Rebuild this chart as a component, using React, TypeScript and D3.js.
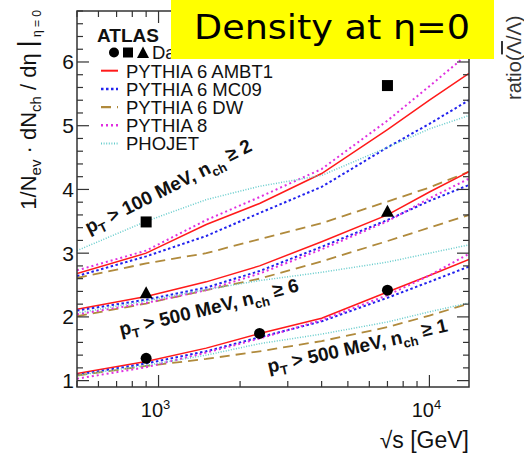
import React from "react";
import * as d3 from "d3";

// ---- data ----
const sqrtS = [500, 900, 1500, 2360, 4000, 7000, 10000, 14000];

// pT > 100 MeV, nch >= 2
const ambt1_100_2 = [2.68, 3.0, 3.45, 3.78, 4.25, 4.94, 5.4, 5.82];
const mc09_100_2 = [2.64, 2.95, 3.27, 3.63, 4.04, 4.66, 5.03, 5.4];
const dw_100_2 = [2.61, 2.84, 3.0, 3.22, 3.47, 3.81, 4.03, 4.28];
const py8_100_2 = [2.73, 3.04, 3.52, 3.88, 4.32, 5.08, 5.62, 6.14];
const phojet_100_2 = [3.04, 3.5, 3.84, 4.05, 4.22, 4.66, 4.95, 5.16];

// pT > 500 MeV, nch >= 6
const ambt1_500_6 = [2.12, 2.32, 2.55, 2.8, 3.18, 3.6, 3.96, 4.28];
const mc09_500_6 = [2.1, 2.27, 2.46, 2.72, 3.1, 3.52, 3.82, 4.07];
const dw_500_6 = [2.01, 2.21, 2.42, 2.6, 2.87, 3.19, 3.4, 3.6];
const py8_500_6 = [2.04, 2.22, 2.42, 2.68, 3.06, 3.5, 3.86, 4.17];
const phojet_500_6 = [2.06, 2.25, 2.43, 2.57, 2.7, 2.86, 3.0, 3.13];

// pT > 500 MeV, nch >= 1
const ambt1_500_1 = [1.11, 1.3, 1.51, 1.74, 1.98, 2.39, 2.65, 2.9];
const mc09_500_1 = [1.09, 1.27, 1.46, 1.68, 1.93, 2.3, 2.55, 2.79];
const dw_500_1 = [1.08, 1.23, 1.34, 1.46, 1.62, 1.84, 2.02, 2.21];
const py8_500_1 = [1.03, 1.21, 1.44, 1.66, 1.95, 2.34, 2.65, 2.99];
const phojet_500_1 = [1.08, 1.24, 1.4, 1.58, 1.73, 1.92, 2.08, 2.22];

// ATLAS data
const circleS = [900, 2360, 7000];
const circleV = [1.35, 1.74, 2.42];
const squareS = [900, 7000];
const squareV = [3.49, 5.63];
const triangleS = [900, 7000];
const triangleV = [2.37, 3.65];

const yMajor = [1, 2, 3, 4, 5, 6];
const xMajor = [1000, 10000];
const xMajorExp = ["3", "4"];

const legendNames = ["PYTHIA 6 AMBT1", "PYTHIA 6 MC09", "PYTHIA 6 DW", "PYTHIA 8", "PHOJET"];

// ---- styles ----
const styles = [
  { color: "#ff1a1a", dash: "none", width: 1.5 },
  { color: "#2222ee", dash: "2.5,2.5", width: 2 },
  { color: "#b08a3c", dash: "10,6", width: 1.8 },
  { color: "#e030e0", dash: "2,3", width: 2 },
  { color: "#66cccc", dash: "1,1.6", width: 1.5 },
];

const groups = [
  [ambt1_100_2, mc09_100_2, dw_100_2, py8_100_2, phojet_100_2],
  [ambt1_500_6, mc09_500_6, dw_500_6, py8_500_6, phojet_500_6],
  [ambt1_500_1, mc09_500_1, dw_500_1, py8_500_1, phojet_500_1],
];

const W = 524;
const H = 454;
const L = 77, R = 469, T = 11, B = 387;

const x = d3.scaleLog().domain([500, 14000]).range([L, R]);
const y = d3.scaleLinear().domain([0.9, 6.8]).range([B, T]);

const FONT = "'Liberation Sans', Arial, Helvetica, sans-serif";

export default function App() {
  const line = d3
    .line<[number, number]>()
    .x((d) => x(d[0]))
    .y((d) => y(d[1]))
    .curve(d3.curveLinear);

  const yMinor = d3.range(0.9, 6.81, 0.1).filter((v) => Math.abs(Math.round(v * 5) - v * 5) < 1e-6 && Math.abs(v - Math.round(v)) > 1e-6);
  const xMinor: number[] = [];
  for (const dec of [100, 1000, 10000]) {
    for (let k = 2; k <= 9; k++) {
      const v = k * dec;
      if (v >= 500 && v <= 14000) xMinor.push(v);
    }
  }

  const tickColor = "#333";

  return (
    <svg
      width={W}
      height={H}
      style={{ position: "absolute", left: 0, top: 0, background: "#fff" }}
      fontFamily={FONT}
    >
      <defs>
        <clipPath id="plot">
          <rect x={L} y={T} width={R - L} height={B - T} />
        </clipPath>
      </defs>
      <rect x={0} y={0} width={W} height={H} fill="#fff" />

      {/* curves */}
      <g clipPath="url(#plot)">
        {groups.map((g, gi) =>
          g.map((vals, si) => {
            const st = styles[si];
            const pts = sqrtS.map((s, i) => [s, vals[i]] as [number, number]);
            return (
              <path
                key={`${gi}-${si}`}
                d={line(pts) || ""}
                fill="none"
                stroke={st.color}
                strokeWidth={st.width}
                strokeDasharray={st.dash}
              />
            );
          })
        )}
      </g>

      {/* data markers */}
      {circleS.map((s, i) => (
        <circle key={`c${i}`} cx={x(s)} cy={y(circleV[i])} r={5.5} fill="#000" />
      ))}
      {squareS.map((s, i) => (
        <rect key={`s${i}`} x={x(s) - 5.5} y={y(squareV[i]) - 5.5} width={11} height={11} fill="#000" />
      ))}
      {triangleS.map((s, i) => {
        const cx = x(s), cy = y(triangleV[i]);
        return <path key={`t${i}`} d={`M${cx},${cy - 7} L${cx + 6.5},${cy + 5} L${cx - 6.5},${cy + 5} Z`} fill="#000" />;
      })}

      {/* frame */}
      <rect x={L} y={T} width={R - L} height={B - T} fill="none" stroke={tickColor} strokeWidth={1.5} />

      {/* y ticks */}
      {yMajor.map((v) => (
        <g key={`ym${v}`}>
          <line x1={L} x2={L + 12} y1={y(v)} y2={y(v)} stroke={tickColor} strokeWidth={1.2} />
          <line x1={R} x2={R - 12} y1={y(v)} y2={y(v)} stroke={tickColor} strokeWidth={1.2} />
          <text x={74} y={y(v) + 7.5} textAnchor="end" fontSize={21} fill="#111">
            {v}
          </text>
        </g>
      ))}
      {yMinor.map((v, i) => (
        <g key={`yn${i}`}>
          <line x1={L} x2={L + 6} y1={y(v)} y2={y(v)} stroke={tickColor} strokeWidth={1.2} />
          <line x1={R} x2={R - 6} y1={y(v)} y2={y(v)} stroke={tickColor} strokeWidth={1.2} />
        </g>
      ))}

      {/* x ticks */}
      {xMajor.map((v, i) => (
        <g key={`xm${v}`}>
          <line x1={x(v)} x2={x(v)} y1={B} y2={B - 12} stroke={tickColor} strokeWidth={1.2} />
          <line x1={x(v)} x2={x(v)} y1={T} y2={T + 12} stroke={tickColor} strokeWidth={1.2} />
          <text x={x(v) - 3} y={417} textAnchor="middle" fontSize={20} fill="#111">
            10
            <tspan dy={-8} fontSize={13}>
              {xMajorExp[i]}
            </tspan>
          </text>
        </g>
      ))}
      {xMinor.map((v) => (
        <g key={`xn${v}`}>
          <line x1={x(v)} x2={x(v)} y1={B} y2={B - 6} stroke={tickColor} strokeWidth={1.2} />
          <line x1={x(v)} x2={x(v)} y1={T} y2={T + 6} stroke={tickColor} strokeWidth={1.2} />
        </g>
      ))}

      {/* axis titles */}
      <text x={469} y={448} textAnchor="end" fontSize={23} fill="#111">
        √s [GeV]
      </text>
      <text transform="translate(36,10) rotate(-90)" textAnchor="end" fontSize={22} fill="#111">
        1/N<tspan dy={5} fontSize={15}>ev</tspan>
        <tspan dy={-5}> · dN</tspan>
        <tspan dy={5} fontSize={15}>ch</tspan>
        <tspan dy={-5}> / dη </tspan>
        <tspan fontSize={26}>|</tspan>
        <tspan dy={5} fontSize={12}> η = 0</tspan>
      </text>

      {/* annotations */}
      <text transform="translate(89,234) rotate(-26.5)" fontSize={19} fontWeight="bold" fill="#111">
        p<tspan dy={5} fontSize={13}>T</tspan>
        <tspan dy={-5}> &gt; 100 MeV, n</tspan>
        <tspan dy={5} fontSize={13}>ch</tspan>
        <tspan dy={-7}> ≥ </tspan>
        <tspan>2</tspan>
      </text>
      <text transform="translate(121,336) rotate(-13.5)" fontSize={19} fontWeight="bold" fill="#111">
        p<tspan dy={5} fontSize={13}>T</tspan>
        <tspan dy={-5}> &gt; 500 MeV, n</tspan>
        <tspan dy={5} fontSize={13}>ch</tspan>
        <tspan dy={-7}> ≥ </tspan>
        <tspan>6</tspan>
      </text>
      <text transform="translate(269,373) rotate(-12.5)" fontSize={19} fontWeight="bold" fill="#111">
        p<tspan dy={5} fontSize={13}>T</tspan>
        <tspan dy={-5}> &gt; 500 MeV, n</tspan>
        <tspan dy={5} fontSize={13}>ch</tspan>
        <tspan dy={-7}> ≥ </tspan>
        <tspan>1</tspan>
      </text>

      {/* legend */}
      <text x={97} y={42} fontSize={19} fontWeight="bold" fill="#111">
        ATLAS
      </text>
      <circle cx={114} cy={52.5} r={5} fill="#000" />
      <rect x={123} y={47.5} width={10} height={10} fill="#000" />
      <path d="M143,46.5 L149,58 L137,58 Z" fill="#000" />
      <text x={152} y={59} fontSize={18.5} fill="#111">
        Data
      </text>
      {legendNames.map((name, i) => {
        const cy = 70.7 + i * 18.2;
        const st = styles[i];
        return (
          <g key={name}>
            <line x1={101} x2={118} y1={cy} y2={cy} stroke={st.color} strokeWidth={st.width + 0.5} strokeDasharray={st.dash} />
            <text x={126} y={cy + 6.8} fontSize={18.5} fill="#111">
              {name}
            </text>
          </g>
        );
      })}

      {/* title box */}
      <rect x={171} y={0} width={323} height={59} fill="#ffff00" />
      <text x={194} y={39} fontSize={34} fontFamily="'DejaVu Sans', Verdana, sans-serif" textLength={276} lengthAdjust="spacingAndGlyphs" fill="#000">
        Density at η=0
      </text>

      {/* right label */}
      <text transform="translate(521,100) rotate(-90)" fontSize={20} fill="#333">
        ratio(<tspan textDecoration="overline" style={{ textDecoration: "overline" }}>Λ</tspan>/Λ)
      </text>
    </svg>
  );
}
